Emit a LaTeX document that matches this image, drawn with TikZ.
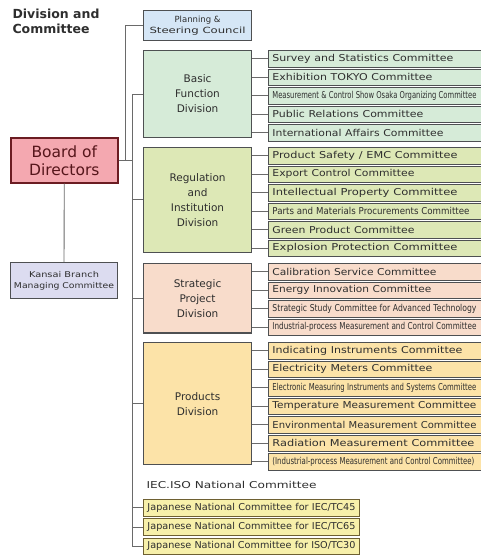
\documentclass[tikz,border=0pt]{standalone}
\usepackage{fontspec}
\setmainfont{DejaVu Sans}
\usepackage{graphicx}
\usetikzlibrary{positioning}

\definecolor{linegray}{HTML}{6A6A6A}
\definecolor{boxgray}{HTML}{4E5052}
\definecolor{txtgray}{HTML}{2E2E2E}
\definecolor{planfill}{HTML}{D5E6F6}
\definecolor{basicfill}{HTML}{D6EBD8}
\definecolor{regfill}{HTML}{DDE8B6}
\definecolor{stratfill}{HTML}{F8DCCB}
\definecolor{prodfill}{HTML}{FCE3A8}
\definecolor{boardfill}{HTML}{F4A8B0}
\definecolor{boardline}{HTML}{6B1C22}
\definecolor{kansaifill}{HTML}{DCDCF0}
\definecolor{iecfill}{HTML}{F7F0AA}
\definecolor{iecline}{HTML}{6E6032}

% squeeze a committee name to a given width
\newcommand{\cname}[2]{\resizebox{#1pt}{\height}{#2}}

\begin{document}
\begin{tikzpicture}[
    x=1pt, y=-1pt,
    line/.style={draw=linegray, line width=0.9pt},
    divbox/.style={
        draw=boxgray,
        line width=1.1pt,
        rectangle,
        anchor=north west,
        align=center,
        minimum width=108pt,
        text=txtgray,
        font=\fontsize{10.5}{15}\selectfont
    },
    combox/.style={
        draw=boxgray,
        line width=0.9pt,
        rectangle,
        anchor=north west,
        align=left,
        minimum width=217pt,
        minimum height=16.6pt,
        text width=209pt,
        inner xsep=4pt,
        inner ysep=0pt,
        text=txtgray,
        font=\fontsize{9.5}{10}\selectfont
    },
    iecbox/.style={
        combox,
        draw=iecline,
        fill=iecfill,
        minimum width=216pt,
        text width=208pt
    }
]
\useasboundingbox (0,0) rectangle (481,560);
\clip (0,0) rectangle (481,560);

\node[anchor=north west, align=left, text=txtgray,
      font=\bfseries\fontsize{12.5}{15}\selectfont] (title) at (9,5) {Division and\\Committee};

% left side
\node[draw=boardline, line width=1.6pt, fill=boardfill, anchor=north west,
      minimum width=107pt, minimum height=45pt, align=center, text=boardline!80!black,
      font=\fontsize{15.5}{18}\selectfont] (board) at (10,137) {Board of\\Directors};
\node[draw=boxgray, line width=1pt, fill=kansaifill, anchor=north west,
      minimum width=107pt, minimum height=36pt, align=center, text=txtgray,
      font=\fontsize{8}{11}\selectfont] (kansai) at (10,262)
      {\cname{70}{Kansai Branch}\\\cname{100}{Managing Committee}};

% divisions
\node[divbox, fill=planfill, minimum height=30pt, font=\fontsize{8.5}{10.5}\selectfont] (plan) at (143,10)
      {Planning \&\\\cname{96}{Steering Council}};
\node[divbox, fill=basicfill, minimum height=87pt] (basic) at (143,50) {Basic\\Function\\Division};
\node[divbox, fill=regfill, minimum height=104.6pt] (reg) at (143,147) {Regulation\\and\\Institution\\Division};
\node[divbox, fill=stratfill, minimum height=69.4pt] (strat) at (143,263) {Strategic\\Project\\Division};
\node[divbox, fill=prodfill, minimum height=122.2pt] (prod) at (143,342) {Products\\Division};

% committees of the Basic Function Division
\node[combox, fill=basicfill] (b1) at (268,50) {\cname{181}{Survey and Statistics Committee}};
\node[combox, fill=basicfill, below=1pt of b1] (b2) {\cname{160}{Exhibition TOKYO Committee}};
\node[combox, fill=basicfill, below=1pt of b2] (b3) {\cname{204}{Measurement \& Control Show Osaka Organizing Committee}};
\node[combox, fill=basicfill, below=1pt of b3] (b4) {\cname{151}{Public Relations Committee}};
\node[combox, fill=basicfill, below=1pt of b4] (b5) {\cname{171}{International Affairs Committee}};

% committees of the Regulation and Institution Division
\node[combox, fill=regfill] (r1) at (268,147) {\cname{185}{Product Safety / EMC Committee}};
\node[combox, fill=regfill, below=1pt of r1] (r2) {\cname{142}{Export Control Committee}};
\node[combox, fill=regfill, below=1pt of r2] (r3) {\cname{185}{Intellectual Property Committee}};
\node[combox, fill=regfill, below=1pt of r3] (r4) {\cname{197}{Parts and Materials Procurements Committee}};
\node[combox, fill=regfill, below=1pt of r4] (r5) {\cname{142}{Green Product Committee}};
\node[combox, fill=regfill, below=1pt of r5] (r6) {\cname{185}{Explosion Protection Committee}};

% committees of the Strategic Project Division
\node[combox, fill=stratfill] (s1) at (268,263) {\cname{164}{Calibration Service Committee}};
\node[combox, fill=stratfill, below=1pt of s1] (s2) {\cname{159}{Energy Innovation Committee}};
\node[combox, fill=stratfill, below=1pt of s2] (s3) {\cname{204}{Strategic Study Committee for Advanced Technology}};
\node[combox, fill=stratfill, below=1pt of s3] (s4) {\cname{204}{Industrial-process Measurement and Control Committee}};

% committees of the Products Division
\node[combox, fill=prodfill] (p1) at (268,342) {\cname{190}{Indicating Instruments Committee}};
\node[combox, fill=prodfill, below=1pt of p1] (p2) {\cname{160}{Electricity Meters Committee}};
\node[combox, fill=prodfill, below=1pt of p2] (p3) {\cname{204}{Electronic Measuring Instruments and Systems Committee}};
\node[combox, fill=prodfill, below=1pt of p3] (p4) {\cname{204}{Temperature Measurement Committee}};
\node[combox, fill=prodfill, below=1pt of p4] (p5) {\cname{204}{Environmental Measurement Committee}};
\node[combox, fill=prodfill, below=1pt of p5] (p6) {\cname{202}{Radiation Measurement Committee}};
\node[combox, fill=prodfill, below=1pt of p6] (p7) {\cname{202}{(Industrial-process Measurement and Control Committee)}};

% national committees
\node[anchor=west, text=txtgray, font=\fontsize{9.5}{11}\selectfont] (iectitle) at (143,485)
      {\cname{170}{IEC.ISO National Committee}};
\node[iecbox] (iec1) at (143,499) {\cname{208}{Japanese National Committee for IEC/TC45}};
\node[iecbox, below=1.8pt of iec1] (iec2) {\cname{208}{Japanese National Committee for IEC/TC65}};
\node[iecbox, below=1.8pt of iec2] (iec3) {\cname{208}{Japanese National Committee for ISO/TC30}};

% connectors
\coordinate (trunk) at (132,0);
\coordinate (planbus) at (125,0);
\draw[line] (basic.west -| trunk) -- (iec3.west -| trunk);
\draw[line] (board.east) -- (board.east -| trunk);
\draw[line] (plan.west) -| (board.east -| planbus);
\draw[line] (board.south) -- (kansai.north);
\foreach \d in {basic,reg,strat,prod,iec1,iec2,iec3}
    \draw[line] (\d.west) -- (\d.west -| trunk);
\foreach \c in {b1,b2,b3,b4,b5}
    \draw[line] (\c.west) -- (\c.west -| basic.east);
\foreach \c in {r1,r2,r3,r4,r5,r6}
    \draw[line] (\c.west) -- (\c.west -| reg.east);
\foreach \c in {s1,s2,s3,s4}
    \draw[line] (\c.west) -- (\c.west -| strat.east);
\foreach \c in {p1,p2,p3,p4,p5,p6,p7}
    \draw[line] (\c.west) -- (\c.west -| prod.east);

\end{tikzpicture}
\end{document}
